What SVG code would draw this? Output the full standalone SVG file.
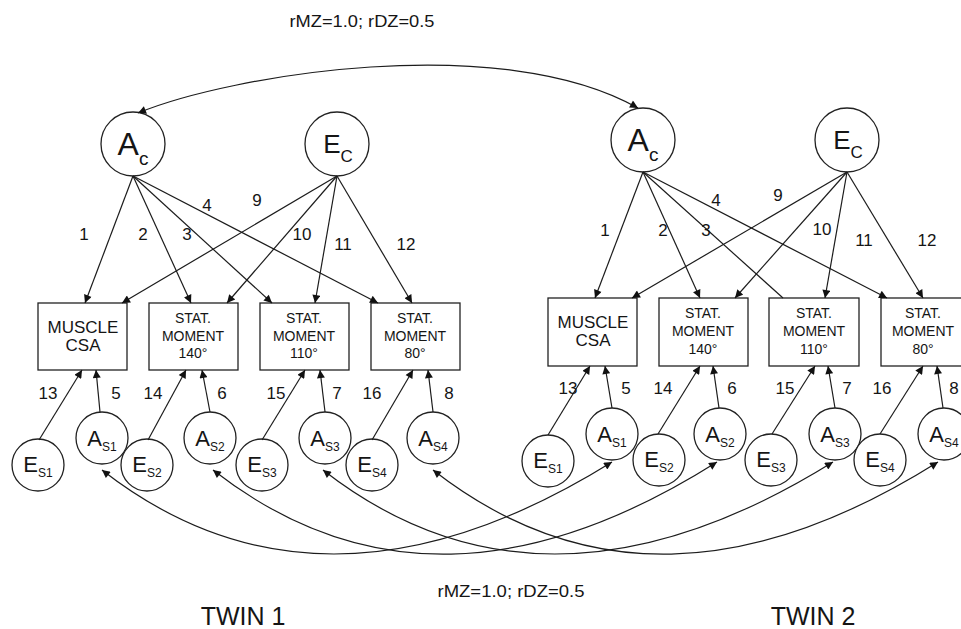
<svg xmlns="http://www.w3.org/2000/svg" width="961" height="629" viewBox="0 0 961 629">
<defs>
<style>
text{font-family:"Liberation Sans",Arial,sans-serif;fill:#151515}
.nd{fill:#fff;stroke:#222;stroke-width:1.3}
.ln{fill:none;stroke:#1c1c1c;stroke-width:1.2}
.ar{marker-end:url(#ah)}
.bi{marker-start:url(#ah);marker-end:url(#ah)}
.num{font-size:17px;text-anchor:middle}
.bx{font-size:14px;text-anchor:middle}
.bx1{font-size:17px;text-anchor:middle}
.big{text-anchor:middle}
.sm{text-anchor:middle;font-size:22px}
</style>
<marker id="ah" viewBox="0 0 10 10" refX="10" refY="5" markerWidth="10" markerHeight="8" markerUnits="userSpaceOnUse" orient="auto-start-reverse">
<path d="M0,0 L10,5 L0,10 z" fill="#111"/>
</marker>
</defs>
<rect width="961" height="629" fill="#fff"/>

<g id="twin1-nodes">
<g id="t1-Ac"><circle class="nd" cx="133" cy="144" r="32"/><text class="big" x="133" y="155" font-size="32">A<tspan font-size="19" dy="10">c</tspan></text></g>
<g id="t1-Ec"><circle class="nd" cx="337" cy="144" r="32"/><text class="big" x="338" y="153" font-size="26">E<tspan font-size="17" dy="9">C</tspan></text></g>
<g id="t1-box1"><rect class="nd" x="38" y="303" width="89" height="67"/><text class="bx1" x="83" y="333">MUSCLE</text><text class="bx1" x="83" y="351">CSA</text></g>
<g id="t1-box2"><rect class="nd" x="149" y="303" width="89" height="67"/><text class="bx" x="193" y="323">STAT.</text><text class="bx" x="193" y="341">MOMENT</text><text class="bx" x="193" y="358">140°</text></g>
<g id="t1-box3"><rect class="nd" x="260" y="303" width="89" height="67"/><text class="bx" x="304" y="323">STAT.</text><text class="bx" x="304" y="341">MOMENT</text><text class="bx" x="304" y="358">110°</text></g>
<g id="t1-box4"><rect class="nd" x="371" y="303" width="89" height="67"/><text class="bx" x="415" y="323">STAT.</text><text class="bx" x="415" y="341">MOMENT</text><text class="bx" x="415" y="358">80°</text></g>
<g id="t1-As1"><circle class="nd" cx="102" cy="438" r="26"/><text class="sm" x="102" y="446">A<tspan font-size="12" dy="5">S1</tspan></text></g>
<g id="t1-As2"><circle class="nd" cx="210" cy="438" r="26"/><text class="sm" x="210" y="446">A<tspan font-size="12" dy="5">S2</tspan></text></g>
<g id="t1-As3"><circle class="nd" cx="325" cy="438" r="26"/><text class="sm" x="325" y="446">A<tspan font-size="12" dy="5">S3</tspan></text></g>
<g id="t1-As4"><circle class="nd" cx="433" cy="438" r="26"/><text class="sm" x="433" y="446">A<tspan font-size="12" dy="5">S4</tspan></text></g>
<g id="t1-Es1"><circle class="nd" cx="38" cy="465" r="26"/><text class="sm" x="38" y="472">E<tspan font-size="12" dy="5">S1</tspan></text></g>
<g id="t1-Es2"><circle class="nd" cx="147" cy="465" r="26"/><text class="sm" x="147" y="472">E<tspan font-size="12" dy="5">S2</tspan></text></g>
<g id="t1-Es3"><circle class="nd" cx="262" cy="465" r="26"/><text class="sm" x="262" y="472">E<tspan font-size="12" dy="5">S3</tspan></text></g>
<g id="t1-Es4"><circle class="nd" cx="372" cy="465" r="26"/><text class="sm" x="372" y="472">E<tspan font-size="12" dy="5">S4</tspan></text></g>
</g>

<g id="twin2-nodes">
<g id="t2-Ac"><circle class="nd" cx="643" cy="140" r="32"/><text class="big" x="643" y="151" font-size="32">A<tspan font-size="19" dy="10">c</tspan></text></g>
<g id="t2-Ec"><circle class="nd" cx="847" cy="140" r="32"/><text class="big" x="848" y="149" font-size="26">E<tspan font-size="17" dy="9">C</tspan></text></g>
<g id="t2-box1"><rect class="nd" x="548" y="298" width="89" height="68"/><text class="bx1" x="593" y="328">MUSCLE</text><text class="bx1" x="593" y="346">CSA</text></g>
<g id="t2-box2"><rect class="nd" x="659" y="298" width="89" height="68"/><text class="bx" x="703" y="318">STAT.</text><text class="bx" x="703" y="336">MOMENT</text><text class="bx" x="703" y="354">140°</text></g>
<g id="t2-box3"><rect class="nd" x="769" y="298" width="90" height="68"/><text class="bx" x="814" y="318">STAT.</text><text class="bx" x="814" y="336">MOMENT</text><text class="bx" x="814" y="354">110°</text></g>
<g id="t2-box4"><rect class="nd" x="881" y="298" width="89" height="68"/><text class="bx" x="923" y="318">STAT.</text><text class="bx" x="923" y="336">MOMENT</text><text class="bx" x="923" y="354">80°</text></g>
<g id="t2-As1"><circle class="nd" cx="612" cy="434" r="26"/><text class="sm" x="612" y="442">A<tspan font-size="12" dy="5">S1</tspan></text></g>
<g id="t2-As2"><circle class="nd" cx="720" cy="434" r="26"/><text class="sm" x="720" y="442">A<tspan font-size="12" dy="5">S2</tspan></text></g>
<g id="t2-As3"><circle class="nd" cx="835" cy="434" r="26"/><text class="sm" x="835" y="442">A<tspan font-size="12" dy="5">S3</tspan></text></g>
<g id="t2-As4"><circle class="nd" cx="944" cy="434" r="26"/><text class="sm" x="944" y="442">A<tspan font-size="12" dy="5">S4</tspan></text></g>
<g id="t2-Es1"><circle class="nd" cx="548" cy="461" r="26"/><text class="sm" x="548" y="468">E<tspan font-size="12" dy="5">S1</tspan></text></g>
<g id="t2-Es2"><circle class="nd" cx="659" cy="460" r="26"/><text class="sm" x="659" y="467">E<tspan font-size="12" dy="5">S2</tspan></text></g>
<g id="t2-Es3"><circle class="nd" cx="771" cy="460" r="26"/><text class="sm" x="771" y="467">E<tspan font-size="12" dy="5">S3</tspan></text></g>
<g id="t2-Es4"><circle class="nd" cx="880" cy="460" r="26"/><text class="sm" x="880" y="467">E<tspan font-size="12" dy="5">S4</tspan></text></g>
</g>

<g id="connectors">
<path class="ln bi" d="M638,108 C500,30 230,75 138,113"/>
<path class="ln ar" d="M133,176 L85,303"/>
<path class="ln ar" d="M133,176 L191,303"/>
<path class="ln ar" d="M133,176 L272,303"/>
<path class="ln ar" d="M133,176 L378,303"/>
<path class="ln ar" d="M337,176 L122,303"/>
<path class="ln ar" d="M337,176 L227,303"/>
<path class="ln ar" d="M337,176 L315,303"/>
<path class="ln ar" d="M337,176 L412,303"/>
<path class="ln ar" d="M643,172 L595,298"/>
<path class="ln ar" d="M643,172 L700,298"/>
<path class="ln" d="M643,172 L783,298"/>
<path class="ln ar" d="M643,172 L887,298"/>
<path class="ln ar" d="M847,172 L632,298"/>
<path class="ln ar" d="M847,172 L735,298"/>
<path class="ln ar" d="M847,172 L825,298"/>
<path class="ln ar" d="M847,172 L923,298"/>
<path class="ln ar" d="M39,440 L82,370"/>
<path class="ln ar" d="M100,412 L96,370"/>
<path class="ln ar" d="M148,440 L186,370"/>
<path class="ln ar" d="M210,412 L202,370"/>
<path class="ln ar" d="M262,440 L305,370"/>
<path class="ln ar" d="M325,412 L320,370"/>
<path class="ln ar" d="M372,440 L413,370"/>
<path class="ln ar" d="M433,412 L428,370"/>
<path class="ln ar" d="M548,435 L590,366"/>
<path class="ln ar" d="M612,408 L605,366"/>
<path class="ln ar" d="M658,434 L700,366"/>
<path class="ln ar" d="M719,408 L713,366"/>
<path class="ln ar" d="M772,434 L815,366"/>
<path class="ln ar" d="M835,408 L828,366"/>
<path class="ln ar" d="M880,434 L923,366"/>
<path class="ln ar" d="M943,408 L937,366"/>
<path class="ln bi" d="M102,470 C252,587 422,580 612,462"/>
<path class="ln bi" d="M213,470 C363,587 530,580 717,462"/>
<path class="ln bi" d="M323,470 C473,587 643,580 833,462"/>
<path class="ln bi" d="M433,470 C583,587 750,580 938,462"/>
</g>

<g id="labels">
<text x="362" y="27" font-size="17" text-anchor="middle" textLength="145" lengthAdjust="spacingAndGlyphs">rMZ=1.0; rDZ=0.5</text>
<text class="num" x="84" y="240">1</text>
<text class="num" x="143" y="240">2</text>
<text class="num" x="187" y="240">3</text>
<text class="num" x="207" y="211">4</text>
<text class="num" x="257" y="206">9</text>
<text class="num" x="302" y="240">10</text>
<text class="num" x="343" y="250">11</text>
<text class="num" x="406" y="250">12</text>
<text class="num" x="605" y="236">1</text>
<text class="num" x="663" y="236">2</text>
<text class="num" x="706" y="236">3</text>
<text class="num" x="716" y="206">4</text>
<text class="num" x="778" y="201">9</text>
<text class="num" x="822" y="235">10</text>
<text class="num" x="864" y="246">11</text>
<text class="num" x="927" y="246">12</text>
<text class="num" x="48" y="399">13</text>
<text class="num" x="116" y="399">5</text>
<text class="num" x="153" y="399">14</text>
<text class="num" x="222" y="399">6</text>
<text class="num" x="276" y="399">15</text>
<text class="num" x="337" y="399">7</text>
<text class="num" x="372" y="399">16</text>
<text class="num" x="449" y="399">8</text>
<text class="num" x="568" y="394">13</text>
<text class="num" x="626" y="394">5</text>
<text class="num" x="663" y="394">14</text>
<text class="num" x="732" y="394">6</text>
<text class="num" x="785" y="394">15</text>
<text class="num" x="847" y="394">7</text>
<text class="num" x="882" y="394">16</text>
<text class="num" x="954" y="394">8</text>
<text x="511" y="597" font-size="17" text-anchor="middle" textLength="147" lengthAdjust="spacingAndGlyphs">rMZ=1.0; rDZ=0.5</text>
<text x="243" y="625" font-size="25" text-anchor="middle">TWIN 1</text>
<text x="813" y="625" font-size="25" text-anchor="middle">TWIN 2</text>
</g>
</svg>
